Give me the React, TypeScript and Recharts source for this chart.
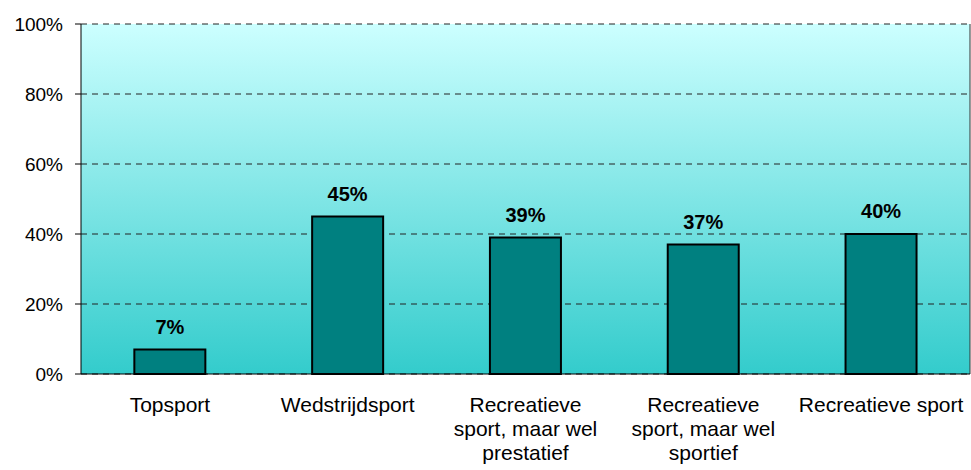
import { BarChart, Bar, XAxis, YAxis, CartesianGrid, LabelList, ReferenceLine } from 'recharts';

const categories = [
  'Topsport',
  'Wedstrijdsport',
  'Recreatieve\nsport, maar wel\nprestatief',
  'Recreatieve\nsport, maar wel\nsportief',
  'Recreatieve sport',
];
const values = [7, 45, 39, 37, 40];
const yTicks = [0, 20, 40, 60, 80, 100];
const boundaryTicks = [0, 1, 2, 3, 4, 5];

const data = categories.map((name, i) => ({ name, value: values[i], idx: i + 0.5 }));

const font = '"Liberation Sans", Arial, sans-serif';

const CategoryTick = (props: any) => {
  const { x, y, payload } = props;
  const lines = String(payload.value).split('\n');
  return (
    <text x={x} y={y} textAnchor="middle" fontFamily={font} fontSize={21} fill="#000">
      {lines.map((l, i) => (
        <tspan key={i} x={x} dy={i === 0 ? 30 : 24}>
          {l}
        </tspan>
      ))}
    </text>
  );
};

const ValueTick = (props: any) => {
  const { x, y, payload } = props;
  return (
    <text x={x} y={y} dy={7} textAnchor="end" fontFamily={font} fontSize={19} fill="#000">
      {`${payload.value}%`}
    </text>
  );
};

export default function App() {
  return (
    <div style={{ position: 'absolute', left: 0, top: 0, background: '#fff' }}>
      <BarChart
        width={971}
        height={470}
        data={data}
        margin={{ top: 24, right: 1, left: 0, bottom: 0 }}
        barCategoryGap="30%"
      >
        <defs>
          <linearGradient id="bg" x1="0" y1="0" x2="0" y2="1">
            <stop offset="0%" stopColor="#ccffff" />
            <stop offset="100%" stopColor="#33cccc" />
          </linearGradient>
        </defs>
        <CartesianGrid
          vertical={false}
          fill="url(#bg)"
          fillOpacity={1}
          stroke="#222"
          strokeDasharray="6 5"
        />
        <XAxis
          xAxisId="t"
          type="number"
          dataKey="idx"
          domain={[0, 5]}
          ticks={boundaryTicks}
          height={0}
          axisLine={false}
          tickLine={{ stroke: '#000' }}
          tickSize={6}
          tickFormatter={() => ''}
          interval={0}
        />
        <XAxis
          dataKey="name"
          height={96}
          axisLine={{ stroke: '#000', strokeWidth: 1 }}
          tickLine={false}
          tick={<CategoryTick />}
          interval={0}
        />
        <YAxis
          domain={[0, 100]}
          ticks={yTicks}
          width={81}
          axisLine={{ stroke: '#000' }}
          tickLine={{ stroke: '#000' }}
          tickSize={6}
          tickMargin={12}
          tick={<ValueTick />}
        />
        <ReferenceLine xAxisId="t" x={5} stroke="#333" strokeWidth={1} />
        <Bar dataKey="value" fill="#008080" stroke="#000" strokeWidth={2} isAnimationActive={false}>
          <LabelList
            dataKey="value"
            position="top"
            offset={16}
            formatter={(v: any) => `${v}%`}
            fill="#000"
            fontWeight="bold"
            fontSize={20}
            fontFamily={font}
          />
        </Bar>
      </BarChart>
    </div>
  );
}
